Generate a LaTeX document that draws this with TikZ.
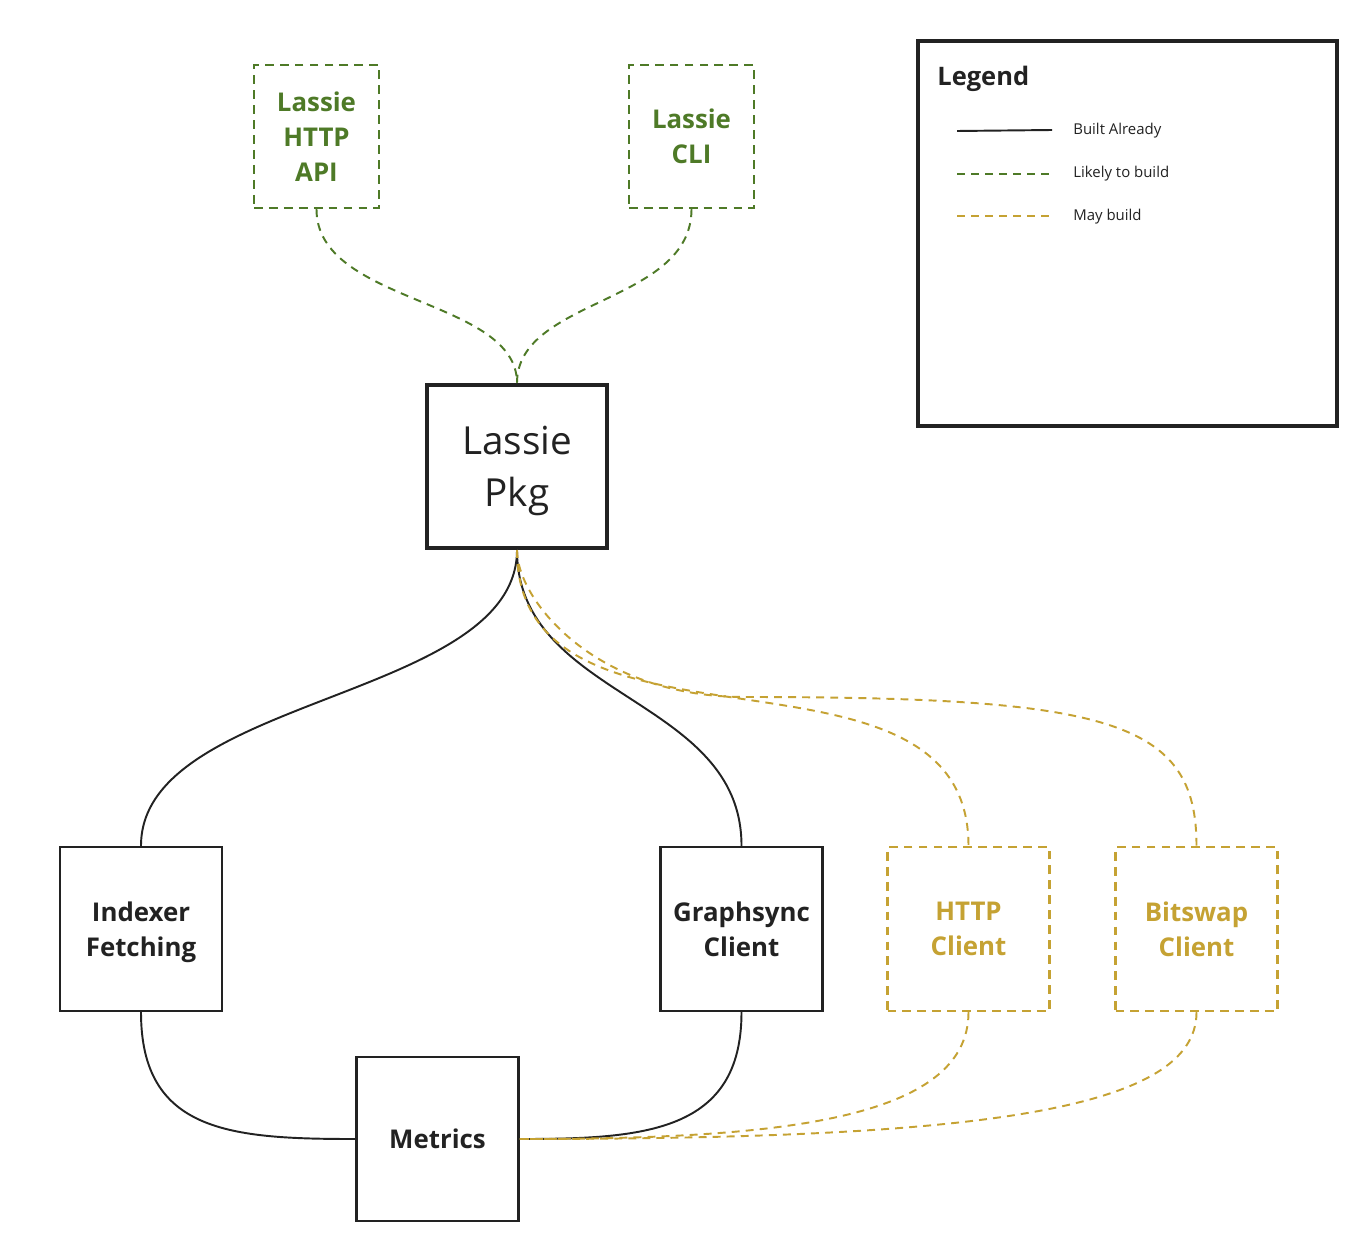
\documentclass[tikz,border=0pt]{standalone}
\usepackage{fontspec}
\setmainfont{Open Sans}
\usetikzlibrary{positioning}
\definecolor{likelygreen}{HTML}{4E7A27}
\definecolor{maybegold}{HTML}{C5A233}
\definecolor{builtblack}{HTML}{222222}

\begin{document}
\begin{tikzpicture}[x=0.02cm, y=-0.02cm,
    every node/.style={align=center, inner sep=0pt, text depth=0pt, text=builtblack},
    box/.style={draw=builtblack, line width=1.4pt, minimum width=3.24cm, minimum height=3.28cm, font=\fontsize{14.7}{20}\selectfont\bfseries},
    likelybox/.style={box, draw=likelygreen, text=likelygreen, dash pattern=on 5pt off 3.5pt, minimum width=2.5cm, minimum height=2.86cm},
    maybebox/.style={box, draw=maybegold, text=maybegold, dash pattern=on 5pt off 3.5pt},
    built/.style={draw=builtblack, line width=1.1pt},
    likely/.style={draw=likelygreen, line width=1.1pt, dash pattern=on 4.5pt off 3.5pt},
    maybe/.style={draw=maybegold, line width=1.1pt, dash pattern=on 4.5pt off 3.5pt},
    legendtext/.style={anchor=west, font=\fontsize{8.5}{10}\selectfont}]
        \fill[white] (0, 0) rectangle (1362, 1250);
        \node[likelybox] (api) at (316.5, 136.5) {Lassie\\HTTP\\API};
        \node[likelybox] (cli) at (691.5, 136.5) {Lassie\\CLI};
        \node[box, line width=2.3pt, minimum width=3.6cm, minimum height=3.26cm, font=\fontsize{22}{29.5}\selectfont] (pkg) at (517, 466.5) {Lassie\\Pkg};
        \node[box] (idx) at (141, 929) {Indexer\\Fetching};
        \node[box] (gs) at (741.5, 929) {Graphsync\\Client};
        \node[maybebox] (httpc) at (968.5, 929) {HTTP\\Client};
        \node[maybebox] (bs) at (1196.5, 929) {Bitswap\\Client};
        \node[box] (met) at (437.5, 1139) {Metrics};
        \node[draw=builtblack, line width=2.3pt, minimum width=8.38cm, minimum height=7.7cm] (legend) at (1127.5, 233.5) {};
        \node[anchor=west, font=\fontsize{14.5}{17}\selectfont\bfseries] (legendtitle) at (937, 76) {Legend};
        \coordinate (builtstart) at (957, 131);
        \coordinate (builtend) at (1052, 130);
        \coordinate (likelystart) at (957, 174);
        \coordinate (likelyend) at (1052, 174);
        \coordinate (maybestart) at (957, 216);
        \coordinate (maybeend) at (1052, 216);
        \node[legendtext] (builttext) at (1073, 129) {Built Already};
        \node[legendtext] (likelytext) at (1073, 172) {Likely to build};
        \node[legendtext] (maybetext) at (1073, 215) {May build};
        \draw[built] (builtstart) -- (builtend);
        \draw[likely] (likelystart) -- (likelyend);
        \draw[maybe] (maybestart) -- (maybeend);
        % bend point of the bitswap line
        \coordinate (fork) at (745, 697);
        \draw[likely] (api.south) .. controls +(0, 95) and +(0, -85) .. (pkg.north);
        \draw[likely] (cli.south) .. controls +(0, 95) and +(0, -85) .. (pkg.north);
        \draw[built] (pkg.south) .. controls +(0, 150) and +(0, -150) .. (idx.north);
        \draw[built] (pkg.south) .. controls +(0, 150) and +(0, -150) .. (gs.north);
        \draw[maybe] (pkg.south) .. controls +(0, 230) and +(0, -227) .. (httpc.north);
        \draw[maybe] (pkg.south) .. controls +(0, 50) and +(-150, 0) .. (fork) .. controls +(365, 0) and +(0, -125) .. (bs.north);
        \draw[built] (idx.south) .. controls +(0, 120) and +(-125, 0) .. (met.west);
        \draw[built] (gs.south) .. controls +(0, 120) and +(125, 0) .. (met.east);
        \draw[maybe] (httpc.south) .. controls +(0, 110) and +(250, 0) .. (met.east);
        \draw[maybe] (bs.south) .. controls +(0, 100) and +(450, 0) .. (met.east);
      \end{tikzpicture}
\end{document}
